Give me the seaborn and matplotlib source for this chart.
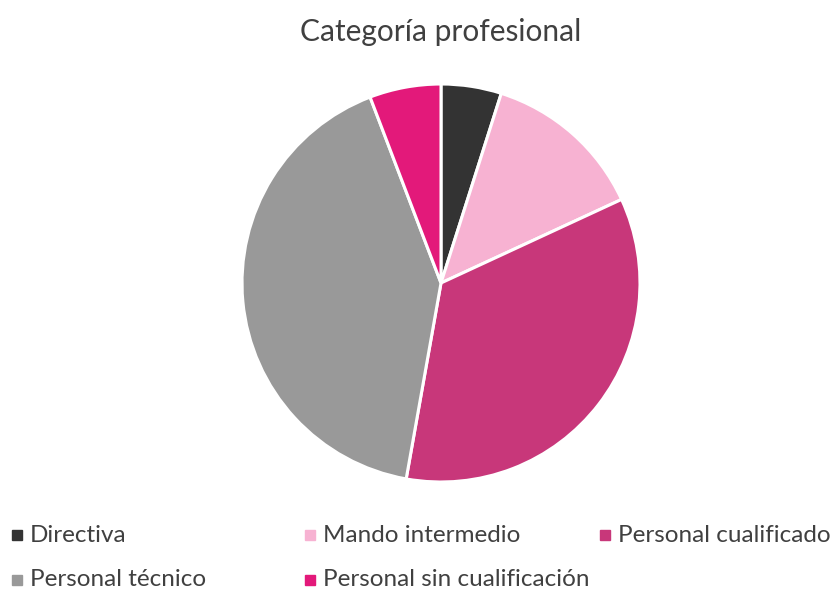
import matplotlib
matplotlib.use("Agg")
import matplotlib.pyplot as plt
from matplotlib.lines import Line2D
import seaborn as sns
import pandas as pd

categorias = ["Directiva", "Mando intermedio", "Personal cualificado",
              "Personal técnico", "Personal sin cualificación"]
porcentajes = [4.9, 13.2, 34.7, 41.4, 5.8]
colores = ["#333333", "#F7B2D2", "#C8377A", "#999999", "#E3197A"]

sns.set_theme(style="white")
plt.rcParams['font.family'] = ['Lato', 'DejaVu Sans']

df = pd.DataFrame({"categoria": categorias, "valor": porcentajes, "color": colores})

fig = plt.figure(figsize=(8.35, 5.9), dpi=100)
# ejes cuadrados centrados en el pastel
ax = fig.add_axes([(441 - 197) / 835, (590 - 480) / 590, 394 / 835, 394 / 590])
ax.pie(df["valor"], colors=df["color"], startangle=90, counterclock=False,
       wedgeprops=dict(edgecolor="white", linewidth=2.2))
ax.set_xlim(-0.99, 0.99)
ax.set_ylim(-0.99, 0.99)
ax.set_aspect("equal")
ax.axis("off")

fig.text(441 / 835, 1 - 32 / 590, "Categoría profesional", ha="center", va="center",
         fontsize=21.5, color="#404040")

# leyenda manual, tres columnas como en el original
pos = [(17, 535), (310, 535), (605, 535), (17, 580), (310, 580)]
for (x, y), cat, col in zip(pos, df["categoria"], df["color"]):
    fig.add_artist(Line2D([x / 835], [1 - y / 590], marker="s", markersize=7,
                          color=col, linestyle="none", transform=fig.transFigure))
    fig.text((x + 13) / 835, 1 - y / 590, cat, ha="left", va="center",
             fontsize=17.5, color="#404040")

fig.savefig("out.png", dpi=100, facecolor="white")
